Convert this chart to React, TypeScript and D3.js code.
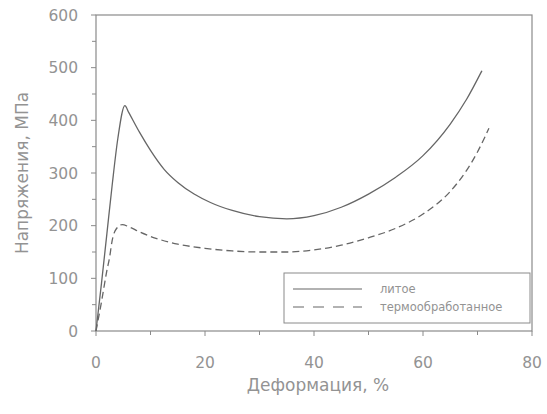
import * as d3 from "d3";
import { useMemo } from "react";

// strain, %
const castX = [0, 1, 2, 3, 4, 5.3, 6, 8, 10, 12.5, 15, 18, 21, 25, 30, 35, 40, 45, 50, 55, 60, 65, 68, 70.8];
// stress, MPa
const castY = [0, 90, 185, 280, 365, 428, 415, 377, 343, 307, 282, 260, 244, 229, 217, 213, 219, 235, 260, 292, 333, 393, 440, 494];

const heatX = [0, 1, 2, 2.5, 2.9, 3.5, 4.8, 6, 8, 11, 15, 20, 25, 30, 35, 40, 45, 50, 55, 60, 65, 68, 70, 72.1];
const heatY = [0, 55, 115, 140, 168, 190, 202, 198, 188, 176, 165, 157, 152, 150, 150, 154, 163, 177, 195, 222, 265, 305, 340, 385];

const xMajor = [0, 20, 40, 60, 80];
const xMinor = [10, 30, 50, 70];
const yMajor = [0, 100, 200, 300, 400, 500, 600];
const yMinor = [50, 150, 250, 350, 450, 550];

const seriesNames = ["литое", "термообработанное"];

const font = "'DejaVu Sans', Verdana, sans-serif";
const textColor = "#939393";
const frameColor = "#8a8a8a";
const lineColor = "#666";

export default function App() {
  const width = 547;
  const height = 414;
  const left = 96;
  const right = 532;
  const top = 15;
  const bottom = 331;

  const x = useMemo(() => d3.scaleLinear().domain([0, 80]).range([left, right]), []);
  const y = useMemo(() => d3.scaleLinear().domain([0, 600]).range([bottom, top]), []);

  const line = d3
    .line<[number, number]>()
    .x((d) => x(d[0]))
    .y((d) => y(d[1]))
    .curve(d3.curveMonotoneX);

  const castPts = castX.map((v, i) => [v, castY[i]] as [number, number]);
  const heatPts = heatX.map((v, i) => [v, heatY[i]] as [number, number]);

  const lg = { x0: 284, x1: 530, y0: 273, y1: 323 };

  return (
    <svg width={width} height={height} style={{ position: "absolute", left: 0, top: 0, background: "#fff" }}>
      <rect x={left} y={top} width={right - left} height={bottom - top} fill="none" stroke={frameColor} strokeWidth={1.2} />

      {xMajor.map((t) => (
        <g key={`xm-${t}`}>
          <line x1={x(t)} x2={x(t)} y1={bottom} y2={bottom + 5} stroke={frameColor} />
          <text x={x(t)} y={bottom + 37} textAnchor="middle" fontFamily={font} fontSize={15.5} fill={textColor}>
            {t}
          </text>
        </g>
      ))}
      {xMinor.map((t) => (
        <line key={`xn-${t}`} x1={x(t)} x2={x(t)} y1={bottom} y2={bottom + 4} stroke={frameColor} />
      ))}

      {yMajor.map((t) => (
        <g key={`ym-${t}`}>
          <line x1={left - 5} x2={left} y1={y(t)} y2={y(t)} stroke={frameColor} />
          <text x={left - 18} y={y(t) + 5.5} textAnchor="end" fontFamily={font} fontSize={15.5} fill={textColor}>
            {t}
          </text>
        </g>
      ))}
      {yMinor.map((t) => (
        <line key={`yn-${t}`} x1={left - 4} x2={left} y1={y(t)} y2={y(t)} stroke={frameColor} />
      ))}

      <path d={line(castPts) ?? ""} fill="none" stroke={lineColor} strokeWidth={1.3} />
      <path d={line(heatPts) ?? ""} fill="none" stroke={lineColor} strokeWidth={1.3} strokeDasharray="7,4" />

      <rect x={lg.x0} y={lg.y0} width={lg.x1 - lg.x0} height={lg.y1 - lg.y0} fill="#fff" stroke={frameColor} strokeWidth={1} />
      <line x1={293} x2={362} y1={289} y2={289} stroke={lineColor} strokeWidth={1.2} />
      <line x1={293} x2={362} y1={307} y2={307} stroke={lineColor} strokeWidth={1.2} strokeDasharray="11,9" />
      <text x={380} y={293} fontFamily={font} fontSize={11.5} fill={textColor}>
        {seriesNames[0]}
      </text>
      <text x={380} y={311} fontFamily={font} fontSize={11.5} fill={textColor}>
        {seriesNames[1]}
      </text>

      <text x={318} y={391} textAnchor="middle" fontFamily={font} fontSize={17} fill={textColor}>
        Деформация, %
      </text>
      <text
        transform={`translate(28,${(top + bottom) / 2}) rotate(-90)`}
        textAnchor="middle"
        fontFamily={font}
        fontSize={17}
        fill={textColor}
      >
        Напряжения, МПа
      </text>
    </svg>
  );
}
